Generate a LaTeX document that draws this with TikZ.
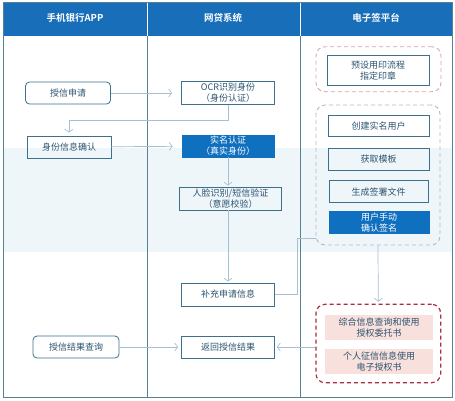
\documentclass[tikz,border=0pt]{standalone}
\usepackage{fontspec}
\setmainfont{Noto Sans CJK SC}[BoldFont={Noto Sans CJK SC Bold}]
\usetikzlibrary{arrows.meta,calc}
\definecolor{hdr}{RGB}{24,110,184}
\definecolor{lanec}{RGB}{84,130,146}
\definecolor{boxc}{RGB}{62,112,140}
\definecolor{txtc}{RGB}{44,84,112}
\definecolor{connc}{RGB}{165,192,210}
\definecolor{bluef}{RGB}{16,112,192}
\definecolor{redd}{RGB}{172,44,64}
\definecolor{pinkd}{RGB}{222,160,170}
\definecolor{grayd}{RGB}{184,186,192}
\definecolor{pinkf}{RGB}{248,224,220}
\definecolor{bandc}{RGB}{239,246,250}
\tikzset{
  boxn/.style={draw=boxc,line width=0.8pt,text=txtc,align=center,inner sep=1pt,
    font=\fontsize{9}{11}\selectfont},
  rboxn/.style={boxn,rounded corners=4pt},
  bluen/.style={boxn,fill=bluef,draw=bluef,text=white},
  pinkn/.style={fill=pinkf,text=txtc,align=center,inner sep=1pt,font=\fontsize{9}{11}\selectfont},
  hdrtext/.style={text=white,font=\fontsize{9.5}{11}\selectfont\bfseries},
  conn/.style={draw=connc,line width=0.7pt},
  arr/.style={-{Straight Barb[length=3pt,width=8pt]}},
  grpn/.style={rounded corners=9pt,line width=0.9pt,dash pattern=on 4pt off 3pt},
}
\begin{document}
\begin{tikzpicture}[x=1pt,y=-1pt]
\useasboundingbox (0,0) rectangle (455,400);
\fill[white] (0,0) rectangle (455,400);
\fill[bandc] (3,148) rectangle (452,252);
% header
\fill[hdr] (3,2) rectangle (452,36);
\draw[white,line width=0.8pt] (147,2) -- (147,36) (300,2) -- (300,36);
\node[hdrtext] (h1) at (75,18) {手机银行APP};
\node[hdrtext] (h2) at (223,18) {网贷系统};
\node[hdrtext] (h3) at (376,18) {电子签平台};
% lanes
\draw[lanec,line width=0.8pt] (3,2) rectangle (452,397);
\draw[lanec,line width=0.8pt] (147,36) -- (147,397) (300,36) -- (300,397);
% groups
\node[grpn,draw=pinkd,minimum width=125pt,minimum height=45pt] (g1) at (378.5,69.2) {};
\node[grpn,draw=grayd,minimum width=124pt,minimum height=140pt] (g2) at (378,175) {};
\node[grpn,draw=redd,line width=1.2pt,minimum width=124.7pt,minimum height=78.4pt] (g3) at (378.3,343.5) {};
% app lane
\node[rboxn,minimum width=85pt,minimum height=22pt] (sq) at (68,93) {授信申请};
\node[boxn,minimum width=84pt,minimum height=22pt] (qr) at (69,147) {身份信息确认};
\node[rboxn,minimum width=86pt,minimum height=22pt] (cx) at (76,347) {授信结果查询};
% loan system lane
\node[boxn,minimum width=93pt,minimum height=23pt] (ocr) at (228,93) {OCR识别身份\\（身份认证）};
\node[bluen,minimum width=92pt,minimum height=22pt] (sm) at (228,146) {实名认证\\（真实身份）};
\node[boxn,minimum width=102pt,minimum height=23pt] (yy) at (230.5,198.5) {人脸识别/短信验证\\（意愿校验）};
\node[boxn,minimum width=93pt,minimum height=23pt] (bc) at (228,294.5) {补充申请信息};
\node[boxn,minimum width=93pt,minimum height=22pt] (fh) at (228,347) {返回授信结果};
% e-sign lane
\node[boxn,minimum width=102pt,minimum height=30pt] (ys) at (378,70.7) {预设用印流程\\指定印章};
\node[boxn,minimum width=101pt,minimum height=21pt] (cj) at (378.5,126.3) {创建实名用户};
\node[boxn,minimum width=101pt,minimum height=22pt] (hq) at (378.5,159) {获取模板};
\node[boxn,minimum width=99pt,minimum height=22pt] (sc) at (378.7,191.7) {生成签署文件};
\node[bluen,minimum width=100pt,minimum height=22pt] (qs) at (379,222.5) {用户手动\\确认签名};
\node[pinkn,minimum width=108pt,minimum height=25pt] (zh) at (379,327.5) {综合信息查询和使用\\授权委托书};
\node[pinkn,minimum width=108pt,minimum height=25pt] (gr) at (379,361.7) {个人征信信息使用\\电子授权书};
% connectors
\coordinate (k1) at (297,238);
\draw[conn,arr,shorten >=9pt] (sq) -- (ocr);
\draw[conn,arr,shorten >=3pt] (ocr.south) -- ++(0,15) -| (qr.north);
\draw[conn,arr,shorten >=9pt] (qr) -- (sm);
\draw[conn,arr,shorten >=1pt] (sm.south) -- (sm.south |- yy.north);
\draw[conn,arr,shorten >=1pt] (sm.south |- yy.south) -- (bc.north);
\draw[conn] (bc.east) -| (k1) -- (k1 -| g2.west);
\draw[conn,arr,shorten >=2pt] (g2.south) -- (g3.north);
\draw[conn,arr,shorten >=2pt] (fh.east -| g3.west) -- (fh.east);
\draw[conn,arr,shorten >=3pt] (cx) -- (fh);
\end{tikzpicture}
\end{document}
